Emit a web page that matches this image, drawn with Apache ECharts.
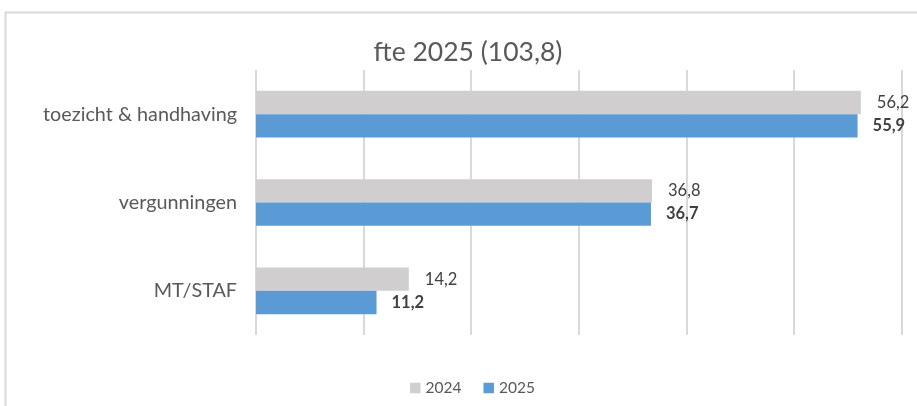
<!DOCTYPE html>
<html>
<head>
<meta charset="utf-8">
<script src="https://cdn.jsdelivr.net/npm/echarts@6/dist/echarts.min.js"></script>
<style>
  html, body { margin: 0; padding: 0; background: #fff; }
  #chart { width: 917px; height: 406px; }
</style>
</head>
<body>
<div id="chart"></div>
<script>
// Formatie per afdeling (fte)
const categories = ['toezicht & handhaving', 'vergunningen', 'MT/STAF'];
const seriesNames = ['2024', '2025'];
const fte2024 = [56.2, 36.8, 14.2];
const fte2025 = [55.9, 36.7, 11.2];
const titleText = 'fte 2025 (103,8)';

const FONT = 'Lato, "Open Sans", sans-serif';
const fmt = p => String(p.value).replace('.', ',');

const chart = echarts.init(document.getElementById('chart'), null, { renderer: 'canvas' });
chart.setOption({
  animation: false,
  textStyle: { fontFamily: FONT },
  title: {
    text: titleText,
    left: 463,
    textAlign: 'center',
    top: 34,
    textStyle: { fontFamily: FONT, fontSize: 26.5, fontWeight: 'normal', color: '#595959' }
  },
  graphic: [{
    type: 'rect',
    shape: { x: 5.5, y: 12.5, width: 1000, height: 500 },
    style: { fill: 'none', stroke: '#d9d9d9', lineWidth: 2 },
    silent: true
  }],
  legend: {
    top: 375,
    left: 405,
    itemWidth: 10.5,
    itemHeight: 10.5,
    itemGap: 22,
    icon: 'rect',
    textStyle: { fontFamily: FONT, fontSize: 15.5, color: '#595959' },
    data: seriesNames
  },
  grid: { left: 256, right: 15.3, top: 70, bottom: 71, containLabel: false },
  xAxis: {
    type: 'value',
    min: 0,
    max: 60,
    interval: 10,
    axisLabel: { show: false },
    axisTick: { show: false },
    axisLine: { show: false },
    splitLine: { show: true, lineStyle: { color: '#d9d9d9', width: 2 } }
  },
  yAxis: {
    type: 'category',
    inverse: true,
    data: categories,
    axisLine: { show: false },
    axisTick: { show: false },
    axisLabel: { fontFamily: FONT, fontSize: 19.8, color: '#595959', margin: 19 }
  },
  series: [
    {
      name: seriesNames[0],
      type: 'bar',
      data: fte2024,
      barWidth: 23.3,
      barGap: '0%',
      itemStyle: { color: '#d0cece' },
      label: {
        show: true, position: 'right', distance: 16,
        formatter: fmt,
        fontFamily: FONT, fontSize: 16.5, color: '#404040'
      }
    },
    {
      name: seriesNames[1],
      type: 'bar',
      data: fte2025,
      barWidth: 23.3,
      barGap: '0%',
      itemStyle: { color: '#5b9bd5' },
      label: {
        show: true, position: 'right', distance: 15,
        formatter: fmt,
        fontFamily: FONT, fontSize: 16.5, fontWeight: 'bold', color: '#404040'
      }
    }
  ]
});
</script>
</body>
</html>
